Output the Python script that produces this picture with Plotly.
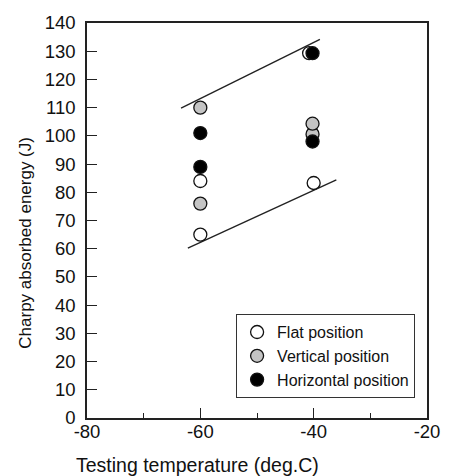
import plotly.graph_objects as go

# Data
flat_x = [-60, -60, -40.8, -40]
flat_y = [84, 65, 129.3, 83.3]
vert_x = [-60, -60, -40.2, -40.2]
vert_y = [110, 76, 100.6, 104.3]
horiz_x = [-60, -60, -40.2, -40.2]
horiz_y = [101, 89, 129.3, 98]

upper_line_x = [-63.4, -38.9]
upper_line_y = [109.8, 134.2]
lower_line_x = [-62.2, -36.0]
lower_line_y = [60.2, 84.4]

x_ticks = [-80, -60, -40, -20]
x_tick_labels = ["-80", "-60", "-40", "-20"]
y_ticks = list(range(0, 141, 10))

FONT = "Liberation Sans, Arial, sans-serif"

fig = go.Figure()
for lx, ly in [(upper_line_x, upper_line_y), (lower_line_x, lower_line_y)]:
    fig.add_trace(go.Scatter(x=lx, y=ly, mode="lines",
                             line=dict(color="#222222", width=1.4),
                             showlegend=False, hoverinfo="skip"))

for name, xs, ys, col in [("Flat position", flat_x, flat_y, "white"),
                          ("Vertical position", vert_x, vert_y, "#c4c4c4"),
                          ("Horizontal position", horiz_x, horiz_y, "black")]:
    fig.add_trace(go.Scatter(x=xs, y=ys, mode="markers", name=name,
                             marker=dict(size=13, color=col,
                                         line=dict(color="#111111", width=1.3))))

fig.update_layout(
    width=452, height=476,
    margin=dict(l=87, r=18, t=13, b=58),
    paper_bgcolor="white", plot_bgcolor="white",
    font=dict(family=FONT, color="#111111"),
    legend=dict(x=0.4385, y=0.263, xanchor="left", yanchor="top",
                bordercolor="#333333", borderwidth=1, bgcolor="white",
                font=dict(size=16, family=FONT), tracegroupgap=0,
                itemwidth=30),
    annotations=[
        dict(text="Testing temperature (deg.C)", xref="paper", yref="paper",
             x=(199.5 - 87) / 347, y=-(466 - 418) / 405, xanchor="center",
             yanchor="middle", showarrow=False, font=dict(size=19.5, family=FONT)),
        dict(text="Charpy absorbed energy (J)", xref="paper", yref="paper",
             x=-(87 - 24) / 347, y=(418 - 238) / 405, xanchor="center",
             yanchor="middle", textangle=-90, showarrow=False,
             font=dict(size=17, family=FONT)),
    ],
)
fig.update_xaxes(range=[-80, -20], tickvals=x_ticks, ticktext=x_tick_labels,
                 ticks="inside", ticklen=10,
                 tickcolor="#222222", tickwidth=1.2,
                 minor=dict(dtick=10, tick0=-80, ticks="inside", ticklen=5,
                            tickcolor="#222222", tickwidth=1.2, showgrid=False),
                 showline=True, linecolor="#222222", linewidth=1.5, mirror=True,
                 showgrid=False, zeroline=False,
                 tickfont=dict(size=18.5, family=FONT), ticklabelstandoff=-4)
fig.update_yaxes(range=[0, 140], tickvals=y_ticks, ticks="inside", ticklen=10,
                 tickcolor="#222222", tickwidth=1.2,
                 showline=True, linecolor="#222222", linewidth=1.5, mirror=True,
                 showgrid=False, zeroline=False,
                 tickfont=dict(size=18.5, family=FONT), ticklabelstandoff=6)

fig.write_html("out.html")
